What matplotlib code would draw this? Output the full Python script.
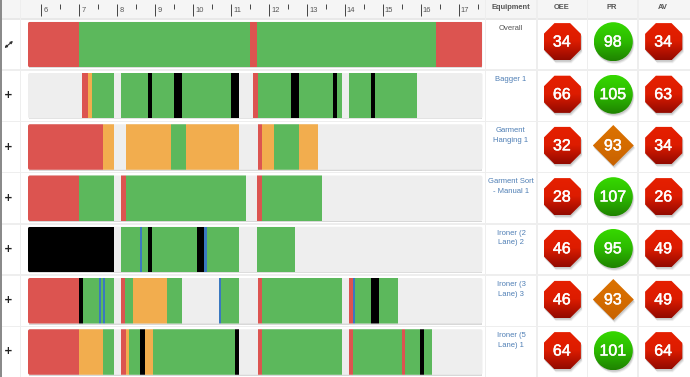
import numpy as np
import matplotlib
matplotlib.use("Agg")
import matplotlib.pyplot as plt
import matplotlib.patheffects as pe
from matplotlib.patches import FancyBboxPatch, Polygon, Circle, Rectangle
from matplotlib.colors import LinearSegmentedColormap
from matplotlib.transforms import ScaledTranslation

plt.rcParams['font.family'] = ['Liberation Sans', 'DejaVu Sans']

# ---------- data ----------
equipment = ["Overall", "Bagger 1", "Garment\nHanging 1", "Garment Sort\n- Manual 1",
             "Ironer (2\nLane) 2", "Ironer (3\nLane) 3", "Ironer (5\nLane) 1"]
oee = [34, 66, 32, 28, 46, 46, 64]
pr = [98, 105, 93, 107, 95, 93, 101]
av = [34, 63, 34, 26, 49, 49, 64]
hour_ticks = list(range(6, 18))
half_ticks = [h + 0.5 for h in range(6, 18)]
metric_headers = ["OEE", "PR", "AV"]

overall_segs = [(5.65, 7.0, 'R'), (7.0, 11.49, 'G'), (11.49, 11.67, 'R'), (11.67, 16.4, 'G'), (16.4, 17.62, 'R')]
bagger_segs = [(7.08, 7.22, 'R'), (7.22, 7.33, 'O'), (7.33, 7.91, 'G'),
               (8.09, 8.80, 'G'), (8.80, 8.92, 'K'), (8.92, 9.49, 'G'), (9.49, 9.71, 'K'),
               (9.71, 11.0, 'G'), (11.0, 11.2, 'K'),
               (11.58, 11.70, 'R'), (11.70, 12.58, 'G'), (12.58, 12.78, 'K'), (12.78, 13.69, 'G'),
               (13.69, 13.78, 'K'), (13.78, 13.92, 'G'),
               (14.10, 14.69, 'G'), (14.69, 14.80, 'K'), (14.80, 15.89, 'G')]
hanging_segs = [(5.65, 7.61, 'R'), (7.61, 7.91, 'O'),
                (8.22, 9.41, 'O'), (9.41, 9.80, 'G'), (9.80, 11.20, 'O'),
                (11.70, 11.80, 'R'), (11.80, 12.12, 'O'), (12.12, 12.79, 'G'), (12.79, 13.28, 'O')]
sort_segs = [(5.65, 7.0, 'R'), (7.0, 7.91, 'G'),
             (8.09, 8.22, 'R'), (8.22, 11.40, 'G'),
             (11.68, 11.80, 'R'), (11.80, 13.39, 'G')]
ironer2_segs = [(5.65, 7.91, 'K'),
                (8.09, 8.59, 'G'), (8.59, 8.64, 'B'), (8.64, 8.80, 'G'), (8.80, 8.92, 'K'),
                (8.92, 10.10, 'G'), (10.10, 10.28, 'K'), (10.28, 10.35, 'B'), (10.35, 11.20, 'G'),
                (11.68, 12.69, 'G')]
ironer3_segs = [(5.65, 7.0, 'R'), (7.0, 7.09, 'K'), (7.09, 7.51, 'G'), (7.51, 7.57, 'B'),
                (7.57, 7.62, 'G'), (7.62, 7.67, 'B'), (7.67, 7.91, 'G'),
                (8.09, 8.21, 'R'), (8.21, 8.41, 'G'), (8.41, 9.30, 'O'), (9.30, 9.71, 'G'),
                (10.68, 10.73, 'B'), (10.73, 11.20, 'G'),
                (11.70, 11.80, 'R'), (11.80, 13.92, 'G'),
                (14.10, 14.21, 'R'), (14.21, 14.27, 'B'), (14.27, 14.69, 'G'),
                (14.69, 14.89, 'K'), (14.89, 15.39, 'G')]
ironer5_segs = [(5.65, 7.0, 'R'), (7.0, 7.61, 'O'), (7.61, 7.91, 'G'),
                (8.09, 8.22, 'R'), (8.22, 8.31, 'O'), (8.31, 8.59, 'G'), (8.59, 8.72, 'K'),
                (8.72, 8.93, 'O'), (8.93, 11.10, 'G'), (11.10, 11.20, 'K'),
                (11.70, 11.80, 'R'), (11.80, 13.92, 'G'),
                (14.11, 14.21, 'R'), (14.21, 15.49, 'G'), (15.49, 15.59, 'R'),
                (15.59, 15.98, 'G'), (15.98, 16.09, 'K'), (16.09, 16.29, 'G')]
rows = [overall_segs, bagger_segs, hanging_segs, sort_segs, ironer2_segs, ironer3_segs, ironer5_segs]

# ---------- style ----------
W, H = 690, 377
COL = {'R': '#dc5450', 'G': '#5cb85c', 'O': '#f2ad4e', 'K': '#000000', 'B': '#3a78c0'}
LINK = '#4f7fb5'
SEP = '#eeeeee'
T0, T1 = 5.645, 17.62
BAR_L, BAR_R = 28, 482.5
PITCH, Y0 = 51.25, 44.5
BAR_H = 45.5
badge_y = [41.7, 94.3, 145.5, 196.7, 248.5, 299.5, 350.7]
badge_x = [562.3, 613.3, 663.7]

fig = plt.figure(figsize=(W / 100, H / 100), dpi=100, facecolor='white')

# pixel-space canvas for the table chrome
bg = fig.add_axes([0, 0, 1, 1], zorder=1)
bg.set_axis_off()

bg.add_patch(Rectangle((0, 0), W, 18, fc='#f5f5f5', ec='none'))
bg.add_patch(Rectangle((0, 0), 2, H, fc='#8a8a8a', ec='none', zorder=5))
bg.add_patch(Rectangle((0, 18), W, 1.5, fc='#e8e8e8', ec='none'))
for x in [20.5, 485.5, 537, 587.5, 638]:
    bg.add_patch(Rectangle((x - 0.7, 0), 1.4, H, fc=SEP, ec='none'))
for i in range(1, len(rows)):
    y = Y0 + PITCH * (i - 0.5)
    bg.add_patch(Rectangle((2, y - 0.8), W, 1.6, fc=SEP, ec='none'))

# rounded track of each row (also the clip shape of the bars)
clips = []
for i in range(len(rows)):
    yc = Y0 + PITCH * i
    bg.add_patch(Rectangle((BAR_L + 1, yc + BAR_H / 2 - 0.3), BAR_R - BAR_L - 2, 1.3, fc='#d8d8d8', ec='none'))
    p = FancyBboxPatch((BAR_L, yc - BAR_H / 2), BAR_R - BAR_L, BAR_H,
                       boxstyle='round,pad=0,rounding_size=2', fc='#eeeeee', ec='none', zorder=2)
    bg.add_patch(p)
    clips.append(p)

red_cm = LinearSegmentedColormap.from_list('r', ['#e62000', '#dd1c00', '#930a00'])
green_cm = LinearSegmentedColormap.from_list('g', ['#36d800', '#2cba00', '#1f8300'])
orange_cm = LinearSegmentedColormap.from_list('o', ['#db7200', '#d56c00', '#c76200'])
grad = np.linspace(0, 1, 64).reshape(-1, 1)


def badge(cx, cy, value, metric):
    if metric == 'PR' and value >= 95:
        shape = lambda dx, dy, **k: Circle((cx + dx, cy + dy), 19.5, **k)
        cm, r = green_cm, 19.5
    elif metric == 'PR':
        r = 20.5
        pts = [(0, -r), (r, 0), (0, r), (-r, 0)]
        shape = lambda dx, dy, **k: Polygon([(cx + a + dx, cy + b + dy) for a, b in pts], **k)
        cm = orange_cm
    else:
        r = 18.6
        c = r * 0.42
        pts = [(-c, -r), (c, -r), (r, -c), (r, c), (c, r), (-c, r), (-r, c), (-r, -c)]
        shape = lambda dx, dy, **k: Polygon([(cx + a + dx, cy + b + dy) for a, b in pts], **k)
        cm = red_cm
    for off, al in [(3.0, .05), (2.2, .07), (1.4, .10)]:
        bg.add_patch(shape(off * .5, off, fc='black', ec='none', alpha=al, zorder=3))
    clip = shape(0, 0, fc='none', ec='none', zorder=3)
    bg.add_patch(clip)
    im = bg.imshow(grad, cmap=cm, extent=(cx - r, cx + r, cy + r, cy - r), aspect='auto',
                   origin='upper', zorder=4)
    im.set_clip_path(clip)
    txt = bg.text(cx - 0.5, cy + 0.3, str(value), color='white', fontsize=11.5, ha='center', va='center', zorder=6)
    txt.set_path_effects([pe.withStroke(linewidth=0.35, foreground='white')])


for i in range(len(rows)):
    for x, vals, name in zip(badge_x, [oee, pr, av], metric_headers):
        badge(x, badge_y[i], vals[i], name)

    # row toggle
    yc = Y0 + PITCH * i
    if i == 0:
        # the expand glyph is in none of the installed families, so it is drawn as a small double arrow
        bg.annotate('', xy=(13, yc - 3.5), xytext=(4.5, yc + 3.5), zorder=6,
                    arrowprops=dict(arrowstyle='<|-|>', color='#333333', lw=0.8,
                                    mutation_scale=3.5, shrinkA=0, shrinkB=0))
    else:
        bg.text(8.5, yc - 0.5, '+', fontsize=7.5, fontweight='bold', color='#222222', ha='center', va='center',
                family=['DejaVu Sans'], zorder=6)
    # equipment name
    bg.text(511, yc - BAR_H / 2 + 2.8, equipment[i], fontsize=5.5, linespacing=1.55,
            color='#555555' if i == 0 else LINK, ha='center', va='top', zorder=6)

for x, label in zip([511, 562, 612, 663], ['Equipment'] + metric_headers):
    bg.text(x, 7.5, label, fontsize=5.4, fontweight='bold', color='#555555', ha='center', va='center', zorder=6)

bg.set_xlim(0, W)
bg.set_ylim(H, 0)

# timeline axes, hours on x, top edge at the tick tops
top_px = 4
ax = fig.add_axes([BAR_L / W, 0, (BAR_R - BAR_L) / W, 1 - top_px / H], zorder=2)
ax.patch.set_alpha(0)
for s in ax.spines.values():
    s.set_visible(False)
ax.yaxis.set_visible(False)

for i, segs in enumerate(rows):
    for start, end, state in segs:
        bar = ax.barh(i, end - start, left=start, height=BAR_H / PITCH, color=COL[state], lw=0)[0]
        bar.set_clip_path(clips[i])

ax.xaxis.tick_top()
ax.set_xticks(hour_ticks)
ax.set_xticks(half_ticks, minor=True)
ax.set_xticklabels([str(h) for h in hour_ticks])
ax.set_xlim(T0, T1)
ax.set_ylim((H - Y0) / PITCH, (top_px - Y0) / PITCH)
ax.tick_params(axis='x', which='major', direction='in', length=12 * 0.72, width=0.7, color='#444444',
               labelsize=5.4, labelcolor='#555555', pad=-7.5)
ax.tick_params(axis='x', which='minor', direction='in', length=5 * 0.72, width=0.7, color='#444444')
off = ScaledTranslation(1.3 / 72, 0, fig.dpi_scale_trans)
for lab in ax.get_xticklabels():
    lab.set_ha('left')
    lab.set_transform(lab.get_transform() + off)

fig.savefig('out.png', dpi=100)
